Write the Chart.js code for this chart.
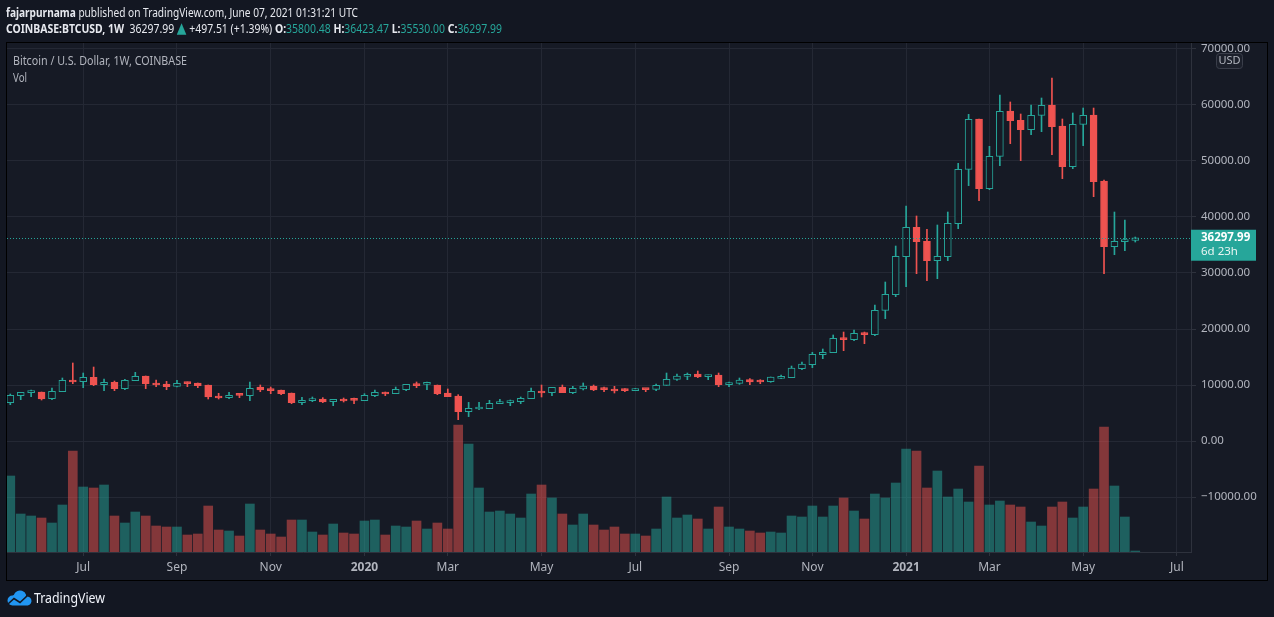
<!DOCTYPE html>
<html><head><meta charset="utf-8">
<script src="https://cdn.jsdelivr.net/npm/chart.js@4.4.0/dist/chart.umd.min.js"></script>
<style>
html,body{margin:0;padding:0;background:#131722;overflow:hidden;}
#wrap{position:relative;width:1274px;height:617px;}
</style></head><body>
<div id="wrap"><canvas id="c" width="1274" height="617"></canvas></div>
<script>
// ---- DATA (weekly candles, COINBASE:BTCUSD) ----
const weeks = ['2019-05-13','2019-05-20','2019-05-27','2019-06-03','2019-06-10','2019-06-17','2019-06-24','2019-07-01','2019-07-08','2019-07-15','2019-07-22','2019-07-29','2019-08-05','2019-08-12','2019-08-19','2019-08-26','2019-09-02','2019-09-09','2019-09-16','2019-09-23','2019-09-30','2019-10-07','2019-10-14','2019-10-21','2019-10-28','2019-11-04','2019-11-11','2019-11-18','2019-11-25','2019-12-02','2019-12-09','2019-12-16','2019-12-23','2019-12-30',
'2020-01-06','2020-01-13','2020-01-20','2020-01-27','2020-02-03','2020-02-10','2020-02-17','2020-02-24','2020-03-02','2020-03-09','2020-03-16','2020-03-23','2020-03-30','2020-04-06','2020-04-13','2020-04-20','2020-04-27','2020-05-04','2020-05-11','2020-05-18','2020-05-25','2020-06-01','2020-06-08','2020-06-15','2020-06-22','2020-06-29','2020-07-06','2020-07-13','2020-07-20','2020-07-27','2020-08-03','2020-08-10','2020-08-17','2020-08-24','2020-08-31','2020-09-07','2020-09-14','2020-09-21','2020-09-28','2020-10-05','2020-10-12','2020-10-19','2020-10-26','2020-11-02','2020-11-09','2020-11-16','2020-11-23','2020-11-30','2020-12-07','2020-12-14','2020-12-21','2020-12-28',
'2021-01-04','2021-01-11','2021-01-18','2021-01-25','2021-02-01','2021-02-08','2021-02-15','2021-02-22','2021-03-01','2021-03-08','2021-03-15','2021-03-22','2021-03-29','2021-04-05','2021-04-12','2021-04-19','2021-04-26','2021-05-03','2021-05-10','2021-05-17','2021-05-24','2021-05-31','2021-06-07'];

const open  = [6850,8100,8630,8750,7560,8810,10890,10600,11370,10060,10480,9350,10770,11610,10360,10180,9760,10360,10360,10000,
8040,7740,8270,8100,9640,9350,9110,8570,6850,7200,7500,7020,7500,7380,7200,8100,8750,8450,9170,10240,
10120,10000,8570,8040,5240,5710,5770,6670,6850,7020,7560,8930,8630,9640,8630,9290,9820,9350,9290,9170,
8990,9290,9230,9940,11010,11550,11960,11490,11790,10060,10300,10950,10710,10600,11190,11310,12920,13630,15420,15770,
18390,18100,19290,18990,23330,26130,32920,38150,35650,32200,32920,38810,48510,57500,45060,50830,58930,57260,55600,58150,
60000,56250,48990,56550,58210,46430,34700,35600,35800.48];
const high  = [8390,8690,9110,8750,9460,11250,13930,12140,13210,11070,10710,11010,12260,11610,10890,10650,10830,10540,10360,10000,
8510,8690,8510,10540,10000,9640,9110,8570,7800,7860,7740,7440,7680,7680,8450,9110,8750,9640,10120,10540,
10540,10000,9290,8270,6900,6900,7260,7440,7320,7860,9460,10000,9580,10000,9760,10360,10000,9640,9760,9350,
9400,9290,10180,12140,11960,12140,12500,11790,12140,10540,11250,11130,10950,11430,11790,13390,14110,15830,16430,18930,
19460,19820,19460,24290,28390,34820,41960,40180,37800,38570,40890,49580,58330,57500,52620,61790,60540,58390,60000,61250,
64820,57500,58570,59460,59460,46610,40890,39460,36423.47];
const low   = [6490,7380,7920,7320,7380,8810,10240,9520,9880,8990,8990,9170,10770,9350,9700,9170,9640,9700,9520,7500,
7500,7560,7740,7200,8810,8450,8270,6670,6490,7020,6850,6310,6960,6670,7200,7920,8100,8450,8990,9520,
9170,8270,7920,3810,4350,5600,5770,6670,6310,6670,7560,7860,8100,8630,8450,9110,8990,8810,8570,8810,
8990,8810,8990,9940,10830,10950,11310,10950,9700,9700,10120,10060,10240,10480,11130,11310,12740,13100,14700,15770,
16130,17920,17380,18810,21850,25770,27560,29880,28630,28990,32200,37920,45600,42920,44880,49170,53100,50060,54700,55240,
51130,46850,48630,52740,43630,29880,33270,33990,35530.00];
const close = [8150,8690,8690,7500,8870,10830,10540,11370,10060,10480,9350,10830,11550,10240,10000,9700,10300,10240,9880,7860,
7680,8150,8150,9400,9110,8990,8450,6850,7260,7500,6960,7440,7140,7260,8150,8690,8390,9230,10120,9880,
10240,8450,7920,5240,5830,5830,6730,6960,7140,7620,8870,8570,9580,8630,9400,9820,9110,9170,8930,8990,
9290,9170,9940,11010,11610,11900,11430,11790,10060,10360,10890,10540,10540,11430,11430,13040,13750,15480,15830,18330,
18100,19230,18990,23330,26190,32980,38150,35600,32200,32980,38870,48510,57440,45060,50830,58870,57200,55600,58150,59940,
56130,48990,56550,58150,46310,34700,35650,35710,36297.99];
// Volume (relative units, read as bar heights)
const volume = [76,38,36,34,29,47,101,65,64,67,36,29,40,36,26,25,25,17,18,46,
22,21,16,48,22,18,15,32,32,20,17,28,19,18,31,32,17,26,25,31,
23,29,23,127,108,64,40,41,38,34,58,67,54,38,27,38,27,22,25,18,
18,16,23,55,34,37,33,23,45,25,23,21,19,20,19,36,35,46,35,46,
54,41,33,58,54,69,103,101,64,81,55,63,50,86,47,51,47,45,30,26,
45,50,34,45,63,125,66,35,1];

const monthTickIndex  = [7,16,25,34,42,51,60,69,77,86,94,103,112];
const monthTickLabels = ['Jul','Sep','Nov','2020','Mar','May','Jul','Sep','Nov','2021','Mar','May','Jul'];
const priceTicks = [-10000,0,10000,20000,30000,40000,50000,60000,70000];
const lastPrice = 36297.99;
const priceChange = '+497.51 (+1.39%)';

// ---- STYLE ----
const PAGE_BG = '#131722', CHART_BG = '#161a25';
const UP = '#26a69a', DOWN = '#ef5350';
const UP_VOL = 'rgba(38,166,154,0.5)', DOWN_VOL = 'rgba(239,83,80,0.5)';
const GRID = '#242834', AXIS = '#2e323d', TXT = '#b2b5be', FONT = "'Noto Sans', sans-serif";
const VOL_AXIS_MAX = 509;

const idx = open.map((_, i) => i);
const isUp = i => close[i] >= open[i];

function drawSegs(ctx, segs, x, y, targetW) {
  let total = 0;
  segs.forEach(s => { ctx.font = s.font; total += ctx.measureText(s.t).width; });
  const k = targetW / total;
  ctx.save();
  ctx.translate(x, y);
  ctx.scale(k, 1);
  ctx.textBaseline = 'middle';
  ctx.textAlign = 'left';
  let cx = 0;
  segs.forEach(s => { ctx.font = s.font; ctx.fillStyle = s.c; ctx.fillText(s.t, cx, 0); cx += ctx.measureText(s.t).width; });
  ctx.restore();
}

const decor = {
  id: 'decor',
  beforeDraw(chart) {
    const ctx = chart.ctx;
    ctx.save();
    ctx.fillStyle = PAGE_BG;
    ctx.fillRect(0, 0, 1274, 617);
    ctx.fillStyle = CHART_BG;
    ctx.fillRect(7, 43, 1260, 537);
    const W = '#e6e8ee';
    const b13 = "bold 12.5px " + FONT, n13 = "12.5px " + FONT;
    drawSegs(ctx, [
      {t: 'fajarpurnama', font: b13, c: W},
      {t: ' published on TradingView.com, June 07, 2021 01:31:21 UTC', font: n13, c: W}
    ], 6, 13, 352);
    drawSegs(ctx, [
      {t: 'COINBASE:BTCUSD, 1W', font: b13, c: W},
      {t: '  ' + lastPrice.toFixed(2) + ' ', font: n13, c: W},
      {t: '\u25B2', font: "15px 'DejaVu Sans', sans-serif", c: UP},
      {t: ' ' + priceChange + ' ', font: n13, c: W},
      {t: 'O:', font: b13, c: W}, {t: open[open.length-1].toFixed(2) + ' ', font: n13, c: UP},
      {t: 'H:', font: b13, c: W}, {t: high[high.length-1].toFixed(2) + ' ', font: n13, c: UP},
      {t: 'L:', font: b13, c: W}, {t: low[low.length-1].toFixed(2) + ' ', font: n13, c: UP},
      {t: 'C:', font: b13, c: W}, {t: close[close.length-1].toFixed(2), font: n13, c: UP}
    ], 6, 29, 496);
    ctx.restore();
  },
  afterDatasetsDraw(chart) {
    const ctx = chart.ctx, a = chart.chartArea;
    const y = Math.round(chart.scales.y.getPixelForValue(lastPrice)) + 0.5;
    ctx.save();
    ctx.strokeStyle = UP;
    ctx.lineWidth = 1;
    ctx.setLineDash([1, 2]);
    ctx.beginPath(); ctx.moveTo(a.left, y); ctx.lineTo(a.right, y); ctx.stroke();
    ctx.restore();
  },
  afterDraw(chart) {
    const ctx = chart.ctx, a = chart.chartArea;
    ctx.save();
    // chart titles
    drawSegs(ctx, [{t: 'Bitcoin / U.S. Dollar, 1W, COINBASE', font: "13px " + FONT, c: TXT}], 13, 61, 174);
    drawSegs(ctx, [{t: 'Vol', font: "13px " + FONT, c: TXT}], 13, 78, 14);
    // last price label
    const y = chart.scales.y.getPixelForValue(lastPrice);
    ctx.fillStyle = UP;
    ctx.fillRect(a.right, y - 8, 65, 31);
    ctx.fillStyle = '#ffffff';
    ctx.textBaseline = 'middle'; ctx.textAlign = 'left';
    ctx.font = "bold 11.5px " + FONT;
    ctx.fillText(lastPrice.toFixed(2), a.right + 10, y);
    ctx.font = "11.5px " + FONT;
    ctx.fillStyle = '#e8f5f3';
    ctx.fillText('6d 23h', a.right + 10, y + 14);
    // USD badge
    ctx.fillStyle = '#1c202b';
    ctx.strokeStyle = '#3a3e4a';
    ctx.lineWidth = 1;
    ctx.beginPath(); ctx.roundRect(1216.5, 53.5, 26, 15, 3); ctx.fill(); ctx.stroke();
    ctx.fillStyle = TXT; ctx.textAlign = 'center';
    ctx.font = "11px " + FONT;
    ctx.fillText('USD', 1229.5, 61);
    // outer frame
    ctx.strokeStyle = '#000000';
    ctx.lineWidth = 1;
    ctx.strokeRect(6.5, 42.5, 1261, 538);
    // footer logo
    ctx.fillStyle = '#2196f3';
    ctx.beginPath();
    ctx.arc(12.5, 600.5, 5, Math.PI * 0.5, Math.PI * 1.5);
    ctx.arc(20, 597, 6.5, Math.PI * 1.1, Math.PI * 1.9);
    ctx.arc(27, 601, 4.5, Math.PI * 1.4, Math.PI * 0.5);
    ctx.closePath(); ctx.fill();
    ctx.strokeStyle = PAGE_BG; ctx.lineWidth = 1.6;
    ctx.beginPath(); ctx.moveTo(8, 604); ctx.lineTo(14, 598.5); ctx.lineTo(20, 602.5); ctx.lineTo(27, 596); ctx.stroke();
    drawSegs(ctx, [{t: 'TradingView', font: "14px " + FONT, c: '#f0f3fa'}], 34, 599, 71);
    ctx.restore();
  }
};

Chart.defaults.font.family = FONT;
new Chart(document.getElementById('c'), {
  type: 'bar',
  data: {
    datasets: [
      { label: 'Body', order: 1, grouped: false,
        data: idx.map(i => ({x: i, y: [open[i], close[i]]})),
        backgroundColor: idx.map(i => isUp(i) ? CHART_BG : DOWN),
        borderColor: idx.map(i => isUp(i) ? UP : DOWN),
        borderWidth: 1, borderSkipped: false, barThickness: 7, minBarLength: 2, yAxisID: 'y' },
      { label: 'Wick', order: 2, grouped: false,
        data: idx.map(i => ({x: i, y: [low[i], high[i]]})),
        backgroundColor: idx.map(i => isUp(i) ? UP : DOWN),
        barThickness: 1, minBarLength: 2, yAxisID: 'y' },
      { label: 'Vol', order: 3, grouped: false,
        data: idx.map(i => ({x: i, y: volume[i]})),
        backgroundColor: idx.map(i => isUp(i) ? UP_VOL : DOWN_VOL),
        barThickness: 9, yAxisID: 'yv' }
    ]
  },
  options: {
    responsive: false, animation: false,
    layout: { padding: { left: 7, top: 43, right: 7, bottom: 37 } },
    plugins: { legend: { display: false }, tooltip: { enabled: false } },
    scales: {
      x: {
        type: 'linear', min: -0.317, max: 113.35, offset: false,
        afterBuildTicks: s => { s.ticks = monthTickIndex.map(v => ({value: v})); },
        afterFit: s => { s.height = 28; },
        grid: { color: GRID, tickLength: 4, offset: false, tickColor: AXIS },
        border: { display: true, color: AXIS },
        ticks: {
          autoSkip: false, maxRotation: 0, padding: 4, color: TXT,
          font: c => ({ family: FONT, size: 12, weight: (c.tick && /^\d{4}$/.test(monthTickLabels[monthTickIndex.indexOf(c.tick.value)])) ? 'bold' : 'normal' }),
          callback: v => monthTickLabels[monthTickIndex.indexOf(v)]
        }
      },
      y: {
        type: 'linear', position: 'right', min: -19821, max: 71071,
        afterBuildTicks: s => { s.ticks = priceTicks.map(v => ({value: v})); },
        afterFit: s => { s.width = 76; },
        grid: { color: GRID, tickLength: 5, tickColor: AXIS },
        border: { display: true, color: AXIS },
        ticks: {
          padding: 5, color: TXT, font: { family: FONT, size: 11.5 },
          callback: v => (v < 0 ? '\u2212' : '') + Math.abs(v).toFixed(2)
        }
      },
      yv: { type: 'linear', display: false, min: 0, max: VOL_AXIS_MAX }
    }
  },
  plugins: [decor]
});
</script>
</body></html>
